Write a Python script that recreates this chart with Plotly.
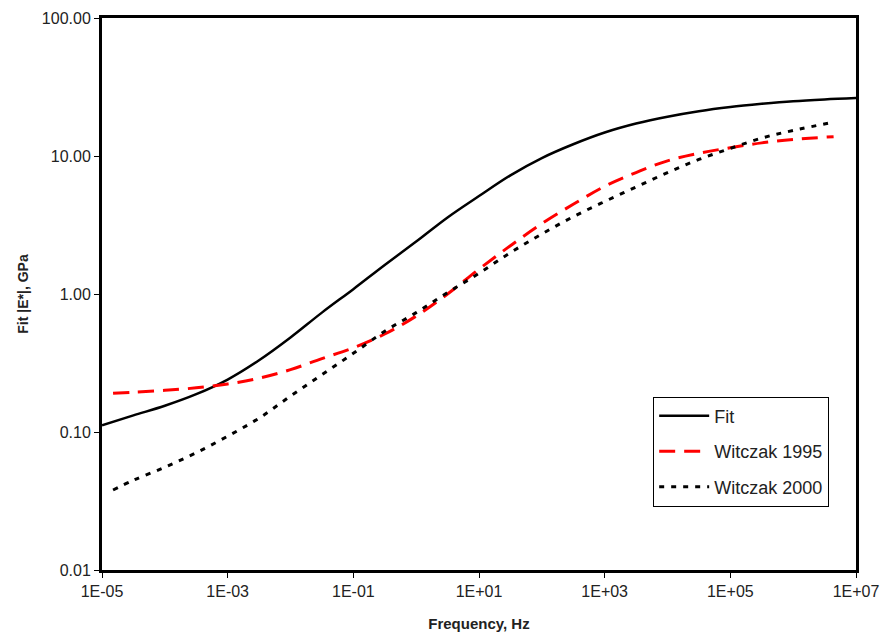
import plotly.graph_objects as go

# Frequencies (Hz)
fit_freq = [1e-5, 3.16e-5, 1e-4, 3.16e-4, 1e-3, 3.16e-3, 1e-2, 3.16e-2, 1e-1, 3.16e-1,
            1e0, 3.16e0, 1e1, 3.16e1, 1e2, 3.16e2, 1e3, 3.16e3, 1e4, 3.16e4,
            1e5, 3.16e5, 1e6, 3.16e6, 1e7]
# Fit |E*| (GPa)
fit_E = [0.112, 0.132, 0.155, 0.188, 0.240, 0.331, 0.484, 0.733, 1.084, 1.622,
         2.399, 3.589, 5.129, 7.244, 9.661, 12.16, 14.79, 17.18, 19.28, 21.13,
         22.65, 23.88, 24.95, 25.70, 26.30]

wit_freq = [1.5e-5, 3.16e-5, 1e-4, 3.16e-4, 1e-3, 3.16e-3, 1e-2, 3.16e-2, 1e-1, 3.16e-1,
            1e0, 3.16e0, 1e1, 3.16e1, 1e2, 3.16e2, 1e3, 3.16e3, 1e4, 3.16e4,
            1e5, 3.16e5, 1e6, 4.4e6]
w1995_E = [0.1905, 0.1941, 0.2004, 0.2089, 0.2228, 0.2455, 0.2831, 0.3404, 0.4074, 0.5129,
           0.6918, 1.000, 1.514, 2.239, 3.236, 4.467, 6.026, 7.586, 9.226, 10.47,
           11.48, 12.45, 13.18, 13.80]
w2000_E = [0.0380, 0.0447, 0.0556, 0.0708, 0.0933, 0.1259, 0.1820, 0.2600, 0.3715, 0.5370,
           0.7328, 1.023, 1.413, 1.995, 2.723, 3.631, 4.677, 5.957, 7.586, 9.441,
           11.35, 13.49, 15.31, 17.58]

x_tickvals = [1e-5, 1e-3, 1e-1, 1e1, 1e3, 1e5, 1e7]
x_ticktext = ["1E-05", "1E-03", "1E-01", "1E+01", "1E+03", "1E+05", "1E+07"]
y_tickvals = [0.01, 0.1, 1, 10, 100]
y_ticktext = ["0.01", "0.10", "1.00", "10.00", "100.00"]

fig = go.Figure()
fig.add_trace(go.Scatter(x=fit_freq, y=fit_E, mode="lines", name="Fit", legendgroup="a",
                         line=dict(color="black", width=2.5, shape="spline")))
fig.add_trace(go.Scatter(x=wit_freq, y=w1995_E, mode="lines", name="Witczak 1995", legendgroup="b",
                         line=dict(color="#ff0000", width=3, dash="16px,9px", shape="spline")))
fig.add_trace(go.Scatter(x=wit_freq, y=w2000_E, mode="lines", name="Witczak 2000", legendgroup="c",
                         line=dict(color="black", width=3, dash="5px,7px", shape="spline")))

font_family = "Liberation Sans, Arial, sans-serif"
fig.update_layout(
    width=872, height=624,
    margin=dict(l=94, r=24, t=10, b=62, autoexpand=False),
    paper_bgcolor="white", plot_bgcolor="white",
    font=dict(family=font_family, size=16, color="#222"),
    showlegend=True,
    legend=dict(x=0.731, y=0.314, xanchor="left", yanchor="top",
                bordercolor="black", borderwidth=1, bgcolor="white",
                traceorder="grouped",
                font=dict(size=18, color="#222"), tracegroupgap=9, itemwidth=50),
    xaxis=dict(type="log", range=[-5, 7], tickvals=x_tickvals, ticktext=x_ticktext,
               showline=True, linewidth=3, linecolor="black", mirror=True,
               ticks="outside", ticklen=5, tickwidth=1, tickcolor="black",
               showgrid=False, zeroline=False, automargin=False,
               ticklabeloverflow="allow",
               tickfont=dict(size=16, color="#222"),
               title=dict(text="<b>Frequency, Hz</b>", font=dict(size=15, color="#222"), standoff=26)),
    yaxis=dict(type="log", range=[-2, 2], tickvals=y_tickvals, ticktext=y_ticktext,
               showline=True, linewidth=3, linecolor="black", mirror=True,
               ticks="outside", ticklen=5, tickwidth=1, tickcolor="black",
               showgrid=False, zeroline=False, automargin=False,
               ticklabeloverflow="allow",
               tickfont=dict(size=16, color="#222"),
               title=dict(text="<b>Fit |E*|, GPa</b>", font=dict(size=14, color="#222"), standoff=10)),
)

fig.write_html("out.html")
